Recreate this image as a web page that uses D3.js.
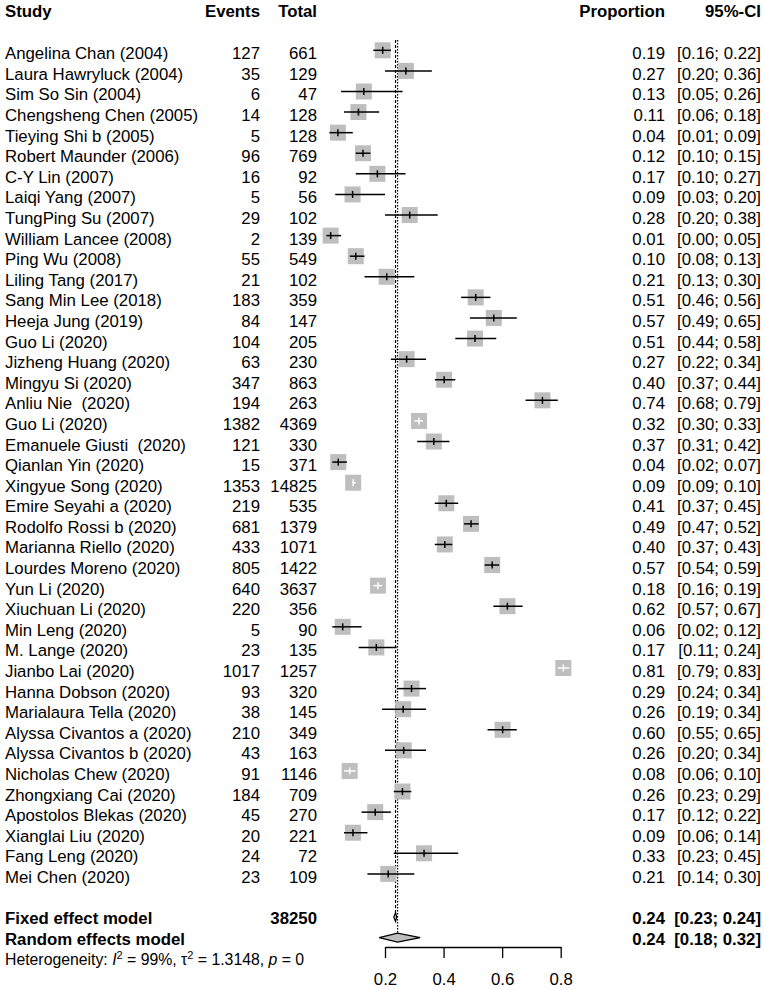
<!DOCTYPE html>
<html><head><meta charset="utf-8">
<script src="https://cdn.jsdelivr.net/npm/d3@7"></script>
<style>body{margin:0;background:#fff}svg{display:block}text{font-family:"Liberation Sans",Arial,sans-serif;fill:#000;white-space:pre}</style>
</head><body>
<svg id="c" width="765" height="990"></svg>
<script>
const studies = ["Angelina Chan (2004)","Laura Hawryluck (2004)","Sim So Sin (2004)","Chengsheng Chen (2005)","Tieying Shi b (2005)","Robert Maunder (2006)","C-Y Lin (2007)","Laiqi Yang (2007)","TungPing Su (2007)","William Lancee (2008)","Ping Wu (2008)","Liling Tang (2017)","Sang Min Lee (2018)","Heeja Jung (2019)","Guo Li (2020)","Jizheng Huang (2020)","Mingyu Si (2020)","Anliu Nie  (2020)","Guo Li (2020)","Emanuele Giusti  (2020)","Qianlan Yin (2020)","Xingyue Song (2020)","Emire Seyahi a (2020)","Rodolfo Rossi b (2020)","Marianna Riello (2020)","Lourdes Moreno (2020)","Yun Li (2020)","Xiuchuan Li (2020)","Min Leng (2020)","M. Lange (2020)","Jianbo Lai (2020)","Hanna Dobson (2020)","Marialaura Tella (2020)","Alyssa Civantos a (2020)","Alyssa Civantos b (2020)","Nicholas Chew (2020)","Zhongxiang Cai (2020)","Apostolos Blekas (2020)","Xianglai Liu (2020)","Fang Leng (2020)","Mei Chen (2020)"];
const events = [127,35,6,14,5,96,16,5,29,2,55,21,183,84,104,63,347,194,1382,121,15,1353,219,681,433,805,640,220,5,23,1017,93,38,210,43,91,184,45,20,24,23];
const totals = [661,129,47,128,128,769,92,56,102,139,549,102,359,147,205,230,863,263,4369,330,371,14825,535,1379,1071,1422,3637,356,90,135,1257,320,145,349,163,1146,709,270,221,72,109];
const props = [0.19,0.27,0.13,0.11,0.04,0.12,0.17,0.09,0.28,0.01,0.10,0.21,0.51,0.57,0.51,0.27,0.40,0.74,0.32,0.37,0.04,0.09,0.41,0.49,0.40,0.57,0.18,0.62,0.06,0.17,0.81,0.29,0.26,0.60,0.26,0.08,0.26,0.17,0.09,0.33,0.21];
const lower = [0.16,0.20,0.05,0.06,0.01,0.10,0.10,0.03,0.20,0.00,0.08,0.13,0.46,0.49,0.44,0.22,0.37,0.68,0.30,0.31,0.02,0.09,0.37,0.47,0.37,0.54,0.16,0.57,0.02,0.11,0.79,0.24,0.19,0.55,0.20,0.06,0.23,0.12,0.06,0.23,0.14];
const upper = [0.22,0.36,0.26,0.18,0.09,0.15,0.27,0.20,0.38,0.05,0.13,0.30,0.56,0.65,0.58,0.34,0.44,0.79,0.33,0.42,0.07,0.10,0.45,0.52,0.43,0.59,0.19,0.67,0.12,0.24,0.83,0.34,0.34,0.65,0.34,0.10,0.29,0.22,0.14,0.45,0.30];
const fixedModel = {label:"Fixed effect model", total:38250, est:0.236, lo:0.23, hi:0.24, estText:"0.24", ciText:"[0.23; 0.24]"};
const randomModel = {label:"Random effects model", est:0.243, lo:0.18, hi:0.32, estText:"0.24", ciText:"[0.18; 0.32]"};
const axisTicks = [0.2,0.4,0.6,0.8];

const svg = d3.select("#c");
const FS = 16.8;
const x = d3.scaleLinear().domain([0.2,0.8]).range([385,560.7]);
const rowBase = i => 59.3 + i*20.59;
const f2 = d3.format(".2f");

function txt(xp, y, s, anchor, bold, size){
  return svg.append("text").attr("x",xp).attr("y",y).attr("text-anchor",anchor||"start")
    .attr("xml:space","preserve")
    .attr("font-size",size||FS).attr("font-weight",bold?"bold":"normal").text(s);
}
// header
const hy = 17;
txt(5,hy,"Study","start",true);
txt(260,hy,"Events","end",true);
txt(317,hy,"Total","end",true);
txt(665,hy,"Proportion","end",true);
txt(761,hy,"95%-CI","end",true);

// reference lines
const fixedY = rowBase(42);
const randomY = rowBase(43);
svg.append("line").attr("x1",x(fixedModel.est)).attr("x2",x(fixedModel.est)).attr("y1",40).attr("y2",fixedY-7)
  .attr("stroke","#000").attr("stroke-width",1.2).attr("stroke-dasharray","3,2");
svg.append("line").attr("x1",x(randomModel.est)).attr("x2",x(randomModel.est)).attr("y1",40).attr("y2",randomY-11)
  .attr("stroke","#000").attr("stroke-width",1.2).attr("stroke-dasharray","1.5,1.5");

const BOX = 16, HALF = 7;
studies.forEach((s,i)=>{
  const b = rowBase(i);
  const cy = b - 9;
  const p = events[i]/totals[i];
  const cx = x(p);
  txt(5,b,s);
  txt(260,b,String(events[i]),"end");
  txt(317,b,String(totals[i]),"end");
  txt(665,b,f2(props[i]),"end");
  txt(761,b,"["+f2(lower[i])+"; "+f2(upper[i])+"]","end");
  svg.append("rect").attr("x",cx-BOX/2).attr("y",cy-BOX/2).attr("width",BOX).attr("height",BOX).attr("fill","#bebebe");
  const inside = (x(p)-x(lower[i])) < HALF && (x(upper[i])-x(p)) < HALF;
  const col = inside ? "#fff" : "#000";
  svg.append("line").attr("x1",x(lower[i])).attr("x2",x(upper[i])).attr("y1",cy).attr("y2",cy).attr("stroke",col).attr("stroke-width",1.5);
  svg.append("line").attr("x1",cx).attr("x2",cx).attr("y1",cy-3.5).attr("y2",cy+3.5).attr("stroke",col).attr("stroke-width",1.5);
});

// summary rows
function diamond(m, b){
  const cy = b - 7, h = 4.5;
  svg.append("path").attr("d",`M${x(m.lo)},${cy}L${x(m.est)},${cy-h}L${x(m.hi)},${cy}L${x(m.est)},${cy+h}Z`)
    .attr("fill","#bebebe").attr("stroke","#000").attr("stroke-width",1.2);
}
txt(5,fixedY,fixedModel.label,"start",true);
txt(317,fixedY,String(fixedModel.total),"end",true);
txt(665,fixedY,fixedModel.estText,"end",true);
txt(761,fixedY,fixedModel.ciText,"end",true);
diamond(fixedModel, fixedY);
txt(5,randomY,randomModel.label,"start",true);
txt(665,randomY,randomModel.estText,"end",true);
txt(761,randomY,randomModel.ciText,"end",true);
diamond(randomModel, randomY);

// heterogeneity
const het = svg.append("text").attr("x",5).attr("y",rowBase(44)).attr("font-size",15.8);
het.append("tspan").text("Heterogeneity: ");
het.append("tspan").attr("font-style","italic").text("I");
het.append("tspan").attr("font-size",11).attr("dy",-6).text("2");
het.append("tspan").attr("dy",6).text(" = 99%, \u03C4");
het.append("tspan").attr("font-size",11).attr("dy",-6).text("2");
het.append("tspan").attr("dy",6).text(" = 1.3148, ");
het.append("tspan").attr("font-style","italic").text("p");
het.append("tspan").text(" = 0");

// axis
const ax = svg.append("g").attr("transform","translate(0,947)")
  .call(d3.axisBottom(x).tickValues(axisTicks).tickSize(11).tickSizeOuter(0).tickPadding(15).tickFormat(d3.format(".1f")));
ax.select(".domain").attr("stroke","#000").attr("stroke-width",1.3);
ax.selectAll(".tick line").attr("stroke","#000").attr("stroke-width",1.3);
ax.selectAll(".tick text").attr("font-size",FS).attr("font-family","Liberation Sans, Arial, sans-serif").attr("fill","#000");
</script>
</body></html>
